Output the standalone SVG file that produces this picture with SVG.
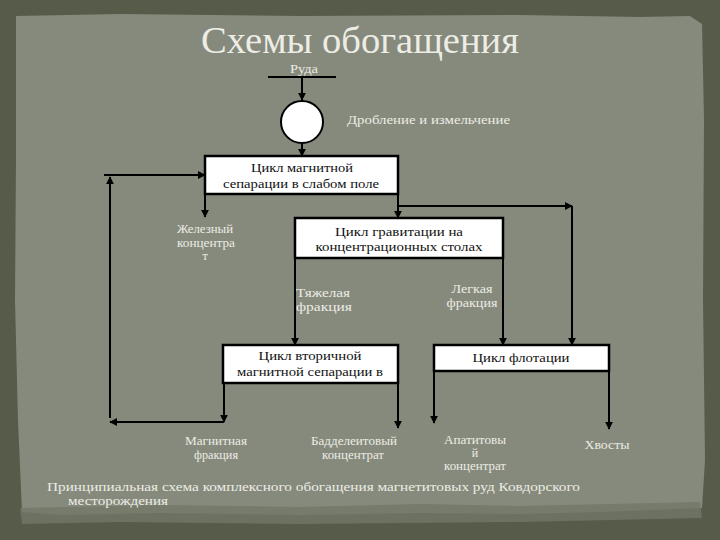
<svg xmlns="http://www.w3.org/2000/svg" width="720" height="540" viewBox="0 0 720 540">
  <defs>
    <marker id="ah" viewBox="0 0 10 10" refX="9" refY="5" markerWidth="8" markerHeight="8" markerUnits="userSpaceOnUse" orient="auto">
      <path d="M0,0 L10,5 L0,10 Z" fill="#000"/>
    </marker>
    <style>
      .box { fill: #ffffff; stroke: #000; stroke-width: 2.5; }
      .bt { font-family: "Liberation Serif", "DejaVu Serif", serif; font-size: 13.5px; fill: #111; text-anchor: middle; }
      .lb { font-family: "Liberation Serif", "DejaVu Serif", serif; font-size: 12px; fill: #ecece4; }
      .c { text-anchor: middle; }
      .ln { fill: none; stroke: #000; stroke-width: 2; }
      .ar { fill: none; stroke: #000; stroke-width: 2; marker-end: url(#ah); }
    </style>
  </defs>

  <!-- background -->
  <rect x="0" y="0" width="720" height="540" fill="#575c4a"/>
  <path d="M16,16 L120,14 L300,16 L520,15 L640,17 L690,16 L702,24 L704,120 L703,300 L705,460 L702,508 L600,512 L520,514 L420,513 L300,515 L160,513 L60,515 L22,512 L18,420 L15,300 L16,160 Z" fill="#868a7d"/>
  <path d="M20,508 L160,505 L300,507 L420,504 L520,506 L700,502 L702,518 L520,522 L300,524 L120,522 L22,524 Z" fill="#727766" opacity="0.8"/>

  <!-- title -->
  <text x="360" y="53" font-family="Liberation Serif, DejaVu Serif, serif" font-size="38" fill="#ededE6" text-anchor="middle" textLength="318" lengthAdjust="spacingAndGlyphs">Схемы обогащения</text>

  <!-- connectors -->
  <g id="connectors">
    <line class="ln" x1="268" y1="77" x2="336" y2="77"/>
    <line class="ar" x1="302" y1="77" x2="302" y2="100"/>
    <line class="ar" x1="302" y1="144" x2="302" y2="156"/>
    <line class="ar" x1="205" y1="194" x2="205" y2="217"/>
    <line class="ar" x1="398" y1="194" x2="398" y2="218"/>
    <line class="ar" x1="398" y1="206" x2="572" y2="206"/>
    <line class="ar" x1="572" y1="206" x2="572" y2="345"/>
    <line class="ar" x1="295" y1="258" x2="295" y2="345"/>
    <line class="ar" x1="503" y1="258" x2="503" y2="345"/>
    <line class="ar" x1="224" y1="383" x2="224" y2="422"/>
    <line class="ar" x1="224" y1="422" x2="110" y2="422"/>
    <line class="ar" x1="110" y1="418" x2="110" y2="177"/>
    <line class="ar" x1="104" y1="175" x2="205" y2="175"/>
    <line class="ar" x1="398" y1="383" x2="398" y2="428"/>
    <line class="ar" x1="434" y1="371" x2="434" y2="423"/>
    <line class="ar" x1="609" y1="371" x2="609" y2="429"/>
  </g>

  <g id="ore">
    <text class="lb c" x="304" y="73" font-size="10" textLength="28" lengthAdjust="spacingAndGlyphs">Руда</text>
  </g>

  <g id="crushing">
    <circle cx="302" cy="122" r="21" fill="#fff" stroke="#000" stroke-width="2"/>
    <text class="lb" x="347" y="124" textLength="163" lengthAdjust="spacingAndGlyphs">Дробление и измельчение</text>
  </g>

  <g id="magsep">
    <rect class="box" x="205" y="156" width="193" height="38"/>
    <text class="bt" x="302" y="172" textLength="102" lengthAdjust="spacingAndGlyphs">Цикл магнитной</text>
    <text class="bt" x="301" y="188" textLength="156" lengthAdjust="spacingAndGlyphs">сепарации в слабом поле</text>
  </g>

  <g id="iron">
    <text class="lb c" x="205" y="233" textLength="56" lengthAdjust="spacingAndGlyphs">Железный</text>
    <text class="lb c" x="206" y="247" textLength="58" lengthAdjust="spacingAndGlyphs">концентра</text>
    <text class="lb c" x="205" y="260">т</text>
  </g>

  <g id="gravity">
    <rect class="box" x="295" y="218" width="208" height="40"/>
    <text class="bt" x="399" y="236" textLength="128" lengthAdjust="spacingAndGlyphs">Цикл гравитации на</text>
    <text class="bt" x="399" y="251" textLength="167" lengthAdjust="spacingAndGlyphs">концентрационных столах</text>
  </g>

  <g id="heavy">
    <text class="lb" x="296" y="297" textLength="54" lengthAdjust="spacingAndGlyphs">Тяжелая</text>
    <text class="lb" x="296" y="311" textLength="56" lengthAdjust="spacingAndGlyphs">фракция</text>
  </g>

  <g id="light">
    <text class="lb c" x="472" y="293" textLength="41" lengthAdjust="spacingAndGlyphs">Легкая</text>
    <text class="lb c" x="472" y="307" textLength="51" lengthAdjust="spacingAndGlyphs">фракция</text>
  </g>

  <g id="secmag">
    <rect class="box" x="223" y="345" width="175" height="38"/>
    <text class="bt" x="310" y="360" textLength="103" lengthAdjust="spacingAndGlyphs">Цикл вторичной</text>
    <text class="bt" x="310" y="376" textLength="146" lengthAdjust="spacingAndGlyphs">магнитной сепарации в</text>
  </g>

  <g id="flotation">
    <rect class="box" x="434" y="345" width="175" height="26"/>
    <text class="bt" x="521" y="362" textLength="97" lengthAdjust="spacingAndGlyphs">Цикл флотации</text>
  </g>

  <g id="magfrac">
    <text class="lb c" x="216" y="445" textLength="62" lengthAdjust="spacingAndGlyphs">Магнитная</text>
    <text class="lb c" x="216" y="459" textLength="44" lengthAdjust="spacingAndGlyphs">фракция</text>
  </g>

  <g id="baddeleyite">
    <text class="lb c" x="354" y="445" textLength="86" lengthAdjust="spacingAndGlyphs">Бадделеитовый</text>
    <text class="lb c" x="353" y="459" textLength="62" lengthAdjust="spacingAndGlyphs">концентрат</text>
  </g>

  <g id="apatite">
    <text class="lb c" x="475" y="444" font-size="11" textLength="62" lengthAdjust="spacingAndGlyphs">Апатитовы</text>
    <text class="lb c" x="475" y="457" font-size="11">й</text>
    <text class="lb c" x="475" y="470" font-size="11" textLength="62" lengthAdjust="spacingAndGlyphs">концентрат</text>
  </g>

  <g id="tails">
    <text class="lb c" x="607" y="449" textLength="45" lengthAdjust="spacingAndGlyphs">Хвосты</text>
  </g>

  <!-- caption -->
  <text class="lb" x="47" y="491" font-size="13" textLength="533" lengthAdjust="spacingAndGlyphs">Принципиальная схема комплексного обогащения магнетитовых руд Ковдорского</text>
  <text class="lb" x="68" y="505" font-size="13" textLength="100" lengthAdjust="spacingAndGlyphs">месторождения</text>
</svg>
